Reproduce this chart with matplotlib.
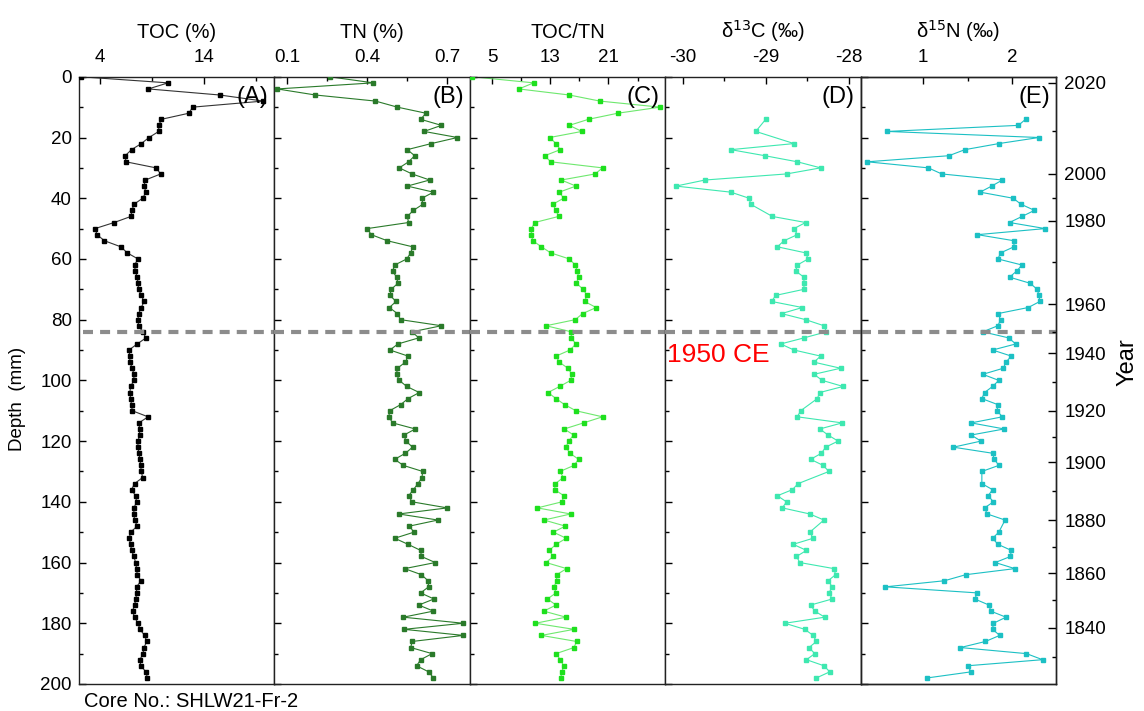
import numpy as np
import matplotlib
matplotlib.use("Agg")
import matplotlib.pyplot as plt
from matplotlib.ticker import FixedLocator

plt.rcParams['font.family'] = ['Liberation Sans', 'DejaVu Sans']

# sample depths (mm)
depth_abc = np.arange(0, 200, 2)

toc = [2.19, 10.58, 8.68, 15.55, 19.74, 12.94, 12.58, 9.94, 9.68, 9.68,
       8.74, 8.0, 7.06, 6.45, 6.52, 9.42, 9.87, 8.39, 8.26, 8.45,
       8.13, 7.29, 7.10, 7.0, 5.39, 3.55, 3.74, 4.45, 6.03, 6.65,
       7.68, 7.35, 7.42, 7.61, 7.68, 7.74, 8.0, 8.26, 8.0, 7.74,
       7.68, 7.74, 8.13, 8.45, 7.61, 6.81, 6.90, 6.90, 7.13, 7.29,
       7.29, 6.97, 6.90, 6.97, 7.06, 7.13, 8.65, 7.77, 7.84, 7.84,
       7.68, 7.68, 7.77, 7.87, 7.94, 8.0, 8.13, 7.35, 7.06, 7.45,
       7.55, 7.29, 7.29, 7.35, 7.61, 6.97, 6.84, 6.97, 7.06, 7.29,
       7.45, 7.55, 7.61, 7.97, 7.55, 7.55, 7.48, 7.35, 7.16, 7.35,
       7.68, 7.87, 8.32, 8.52, 8.26, 8.16, 7.87, 7.94, 8.45, 8.58]

tn = [0.259, 0.423, 0.063, 0.206, 0.431, 0.513, 0.620, 0.600, 0.678, 0.613,
      0.738, 0.640, 0.550, 0.578, 0.555, 0.520, 0.568, 0.634, 0.550, 0.648,
      0.605, 0.608, 0.573, 0.550, 0.555, 0.400, 0.415, 0.475, 0.570, 0.563,
      0.548, 0.503, 0.495, 0.510, 0.515, 0.490, 0.485, 0.508, 0.483, 0.513,
      0.525, 0.678, 0.568, 0.593, 0.515, 0.485, 0.553, 0.543, 0.513, 0.510,
      0.520, 0.548, 0.595, 0.553, 0.525, 0.484, 0.481, 0.495, 0.580, 0.538,
      0.545, 0.570, 0.543, 0.503, 0.535, 0.608, 0.605, 0.590, 0.573, 0.555,
      0.568, 0.700, 0.518, 0.665, 0.558, 0.575, 0.503, 0.553, 0.600, 0.603,
      0.655, 0.540, 0.603, 0.628, 0.630, 0.600, 0.650, 0.593, 0.648, 0.535,
      0.760, 0.538, 0.760, 0.568, 0.563, 0.643, 0.600, 0.585, 0.630, 0.648]

toc_tn = [2.26, 10.71, 8.66, 15.61, 19.81, 28.09, 22.28, 18.26, 15.61, 17.34,
          12.91, 13.78, 14.37, 12.22, 13.05, 20.18, 19.17, 14.51, 16.52, 14.23,
          14.83, 13.32, 13.78, 14.14, 10.85, 10.39, 10.39, 10.58, 11.77, 13.05,
          15.61, 16.43, 16.70, 16.89, 16.57, 17.53, 18.03, 17.71, 19.31, 17.43,
          16.43, 12.41, 15.88, 15.88, 16.52, 15.70, 13.78, 14.23, 15.42, 15.97,
          15.79, 14.28, 12.68, 13.78, 14.97, 16.52, 20.18, 17.57, 14.92, 16.20,
          15.51, 15.15, 15.70, 16.89, 16.25, 14.33, 14.78, 13.69, 13.59, 14.87,
          14.60, 11.22, 15.79, 12.13, 15.06, 13.41, 15.19, 13.78, 12.86, 13.37,
          12.41, 15.24, 13.87, 13.87, 13.50, 13.78, 12.59, 13.78, 12.09, 15.15,
          10.94, 16.25, 11.77, 16.61, 16.25, 13.78, 14.37, 14.83, 14.60, 14.42]

depth_d = [14, 18, 22, 24, 26, 28, 30, 32, 34, 36, 38, 40, 42, 46, 48, 50,
           52, 54, 56, 58, 60, 62, 64, 66, 68, 70, 72, 74, 76, 78, 80, 82,
           84, 86, 88, 90, 92, 94, 96, 98, 100, 102, 104, 106, 110, 112, 114,
           116, 118, 120, 122, 124, 126, 128, 130, 134, 136, 138, 140, 142,
           144, 146, 150, 152, 154, 156, 158, 160, 162, 164, 166, 168, 170,
           172, 174, 176, 178, 180, 182, 184, 186, 188, 190, 192, 194, 196, 198]
d13c = [-29.00, -29.12, -28.66, -29.42, -29.01, -28.62, -28.34, -28.75, -29.73,
        -30.08, -29.42, -29.20, -29.18, -28.92, -28.52, -28.66, -28.62, -28.78,
        -28.86, -28.52, -28.49, -28.62, -28.64, -28.54, -28.54, -28.54, -28.88,
        -28.93, -28.56, -28.81, -28.52, -28.30, -28.27, -28.54, -28.82, -28.66,
        -28.34, -28.42, -28.10, -28.42, -28.32, -28.07, -28.35, -28.38, -28.58,
        -28.62, -28.08, -28.35, -28.25, -28.13, -28.28, -28.33, -28.46, -28.31,
        -28.24, -28.61, -28.68, -28.86, -28.75, -28.80, -28.47, -28.30, -28.47,
        -28.43, -28.67, -28.51, -28.63, -28.59, -28.18, -28.16, -28.25, -28.20,
        -28.24, -28.20, -28.46, -28.41, -28.29, -28.77, -28.53, -28.43, -28.39,
        -28.48, -28.41, -28.51, -28.30, -28.23, -28.39]

depth_e = [14, 16, 18, 20, 22, 24, 26, 28, 30, 32, 34, 36, 38, 40, 42, 44,
           46, 48, 50, 52, 54, 56, 58, 60, 62, 64, 66, 68, 70, 72, 74, 76,
           78, 80, 82, 84, 86, 88, 90, 92, 94, 96, 98, 100, 102, 104, 106,
           108, 110, 112, 114, 116, 118, 120, 122, 124, 126, 128, 130, 134,
           136, 138, 140, 142, 144, 146, 150, 152, 154, 156, 158, 160, 162,
           164, 166, 168, 170, 172, 174, 176, 178, 180, 182, 184, 186, 188,
           190, 192, 194, 196, 198]
d15n = [2.15, 2.07, 0.60, 2.30, 1.85, 1.47, 1.29, 0.375, 1.06, 1.21, 1.89,
        1.77, 1.64, 2.01, 2.10, 2.25, 2.11, 1.97, 2.37, 1.61, 2.02, 2.02,
        1.87, 1.84, 2.11, 2.05, 1.97, 2.20, 2.28, 2.30, 2.31, 2.18, 1.84,
        1.87, 1.84, 1.67, 1.96, 2.04, 1.78, 1.99, 1.93, 1.90, 1.67, 1.85,
        1.78, 1.69, 1.66, 1.84, 1.83, 1.89, 1.54, 1.91, 1.54, 1.65, 1.34,
        1.78, 1.80, 1.85, 1.66, 1.66, 1.78, 1.73, 1.79, 1.69, 1.72, 1.92,
        1.85, 1.78, 1.84, 1.99, 1.98, 1.81, 2.03, 1.48, 1.24, 0.58, 1.61,
        1.58, 1.74, 1.76, 1.93, 1.79, 1.78, 1.86, 1.70, 1.42, 2.16, 2.34,
        1.50, 1.54, 1.05]

# age model ticks on the right axis (year -> depth mm)
year_major = [2020, 2000, 1980, 1960, 1940, 1920, 1900, 1880, 1860, 1840]
year_major_depth = [2, 32, 47.5, 75, 91, 110, 127, 146, 163.5, 181.5]
year_minor_depth = [18, 40, 61, 84, 100.5, 118.5, 136.5, 155, 172.5, 191]

panels = [
    dict(x=toc, d=depth_abc, title="TOC (%)", lim=(2.0, 20.8), ticks=[4, 14],
         minor=[9, 19], color="black", lcolor="#333333", lab="(A)"),
    dict(x=tn, d=depth_abc, title="TN (%)", lim=(0.052, 0.784), ticks=[0.1, 0.4, 0.7],
         minor=[0.25, 0.55], color="#2a7a2a", lcolor="#2a7a2a", lab="(B)"),
    dict(x=toc_tn, d=depth_abc, title="TOC/TN", lim=(1.9, 28.8), ticks=[5, 13, 21],
         minor=[9, 17, 25], color="#1ee01e", lcolor="#6ee86e", lab="(C)"),
    dict(x=d13c, d=depth_d, title=r"δ$^{13}$C (‰)", lim=(-30.21, -27.86),
         ticks=[-30, -29, -28], minor=[-29.5, -28.5], color="#3ee8b0",
         lcolor="#3ee8b0", lab="(D)"),
    dict(x=d15n, d=depth_e, title=r"δ$^{15}$N (‰)", lim=(0.30, 2.49), ticks=[1, 2],
         minor=[1.5], color="#1cc0c4", lcolor="#1cc0c4", lab="(E)"),
]

fig = plt.figure(figsize=(11.44, 7.11), dpi=100)
gs = fig.add_gridspec(1, 5, left=0.069, right=0.923, top=0.892, bottom=0.038, wspace=0)
axes = [fig.add_subplot(gs[0, i]) for i in range(5)]

for i, (ax, p) in enumerate(zip(axes, panels)):
    ax.plot(p["x"], p["d"], "-", color=p["lcolor"], lw=0.8, zorder=2)
    ax.plot(p["x"], p["d"], "s", color=p["color"], ms=3.5, mec=p["color"], zorder=3)
    ax.set_ylim(200, 0)
    ax.set_xlim(*p["lim"])
    ax.xaxis.tick_top()
    ax.set_xticks(p["ticks"])
    ax.xaxis.set_minor_locator(FixedLocator(p["minor"]))
    ax.set_xticklabels([f"{t:g}" for t in p["ticks"]])
    ax.set_title(p["title"], fontsize=14.5, pad=28)
    ax.set_yticks(np.arange(0, 201, 20))
    ax.yaxis.set_minor_locator(FixedLocator(np.arange(10, 200, 20)))
    ax.tick_params(axis="both", which="major", direction="in", length=5, width=1,
                   labelsize=13.5, pad=5)
    ax.tick_params(axis="x", which="major", pad=8)
    ax.tick_params(axis="both", which="minor", direction="in", length=3, width=1)
    ax.tick_params(axis="y", right=False)
    if i > 0:
        ax.tick_params(axis="y", labelleft=False)
    for s in ax.spines.values():
        s.set_linewidth(1.0)
        s.set_color("#222222")
    ax.text(0.97, 0.985, p["lab"], transform=ax.transAxes, ha="right", va="top",
            fontsize=17)
    # 1950 CE boundary
    ax.axhline(84, color="#8c8c8c", lw=3, ls=(0, (2.4, 1.7)), zorder=4,
               xmin=0.02 if i == 0 else 0, xmax=1)

fig.text(18 / 1144, 1 - 399 / 711, "Depth  (mm)", rotation=90, fontsize=13.5,
         ha="center", va="center")
axes[3].text(0.01, 91.5, "1950 CE", color="red", fontsize=19, ha="left", va="center",
             transform=axes[3].get_yaxis_transform())

# right-hand year axis
yr = axes[4].twinx()
yr.set_ylim(200, 0)
yr.set_yticks(year_major_depth)
yr.set_yticklabels([str(y) for y in year_major])
yr.yaxis.set_minor_locator(FixedLocator(year_minor_depth))
yr.tick_params(axis="y", which="major", direction="in", length=6, width=1,
               labelsize=13.5, pad=6)
yr.tick_params(axis="y", which="minor", direction="in", length=3, width=1)
for s in yr.spines.values():
    s.set_linewidth(1.0)
    s.set_color("#222222")
fig.text(1128 / 1144, 1 - 362 / 711, "Year", rotation=90, fontsize=17,
         ha="center", va="center")

fig.text(0.073, 0.013, "Core No.: SHLW21-Fr-2", fontsize=14.5, ha="left", va="center")

fig.savefig("out.png", dpi=100)
